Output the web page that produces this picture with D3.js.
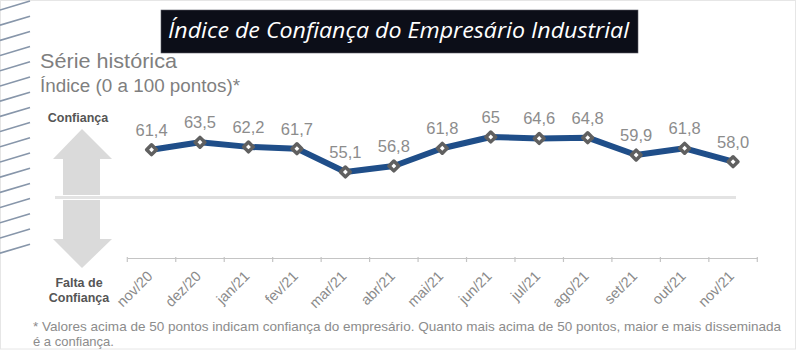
<!DOCTYPE html>
<html>
<head>
<meta charset="utf-8">
<script src="https://cdn.jsdelivr.net/npm/d3@7"></script>
<style>
  body { margin: 0; background: #fff; }
  svg { display: block; }
</style>
</head>
<body>
<div id="chart"></div>
<script>
const months = ["nov/20", "dez/20", "jan/21", "fev/21", "mar/21", "abr/21", "mai/21",
  "jun/21", "jul/21", "ago/21", "set/21", "out/21", "nov/21"];
const values = [61.4, 63.5, 62.2, 61.7, 55.1, 56.8, 61.8, 65, 64.6, 64.8, 59.9, 61.8, 58.0];
const valueLabels = ["61,4", "63,5", "62,2", "61,7", "55,1", "56,8", "61,8", "65", "64,6",
  "64,8", "59,9", "61,8", "58,0"];

const width = 800, height = 351;
const font = "'Liberation Sans', Arial, sans-serif";

var svg = d3.select("#chart").append("svg")
  .attr("width", width)
  .attr("height", height);

// frame
svg.append("rect")
  .attr("x", 0.5).attr("y", 0.5)
  .attr("width", 795).attr("height", 348.5)
  .attr("fill", "none")
  .attr("stroke", "#e6e6e6");

// decorative stripes on the left edge
svg.append("g")
  .selectAll("line")
  .data(d3.range(0, 17))
  .join("line")
  .attr("x1", 0).attr("y1", (i) => i * 15.2 + 10)
  .attr("x2", 30).attr("y2", (i) => i * 15.2 + 1)
  .attr("stroke", "#8796aa")
  .attr("stroke-width", 1.6);

// title box
svg.append("rect")
  .attr("x", 161).attr("y", 10)
  .attr("width", 477).attr("height", 43)
  .attr("fill", "#0c0e18")
  .attr("stroke", "#5a5c66")
  .attr("stroke-width", 0.6);
svg.append("text")
  .attr("x", 168).attr("y", 38)
  .attr("fill", "#ffffff")
  .attr("font-family", "'Open Sans', sans-serif")
  .attr("font-style", "italic")
  .attr("font-size", 21)
  .attr("textLength", 461)
  .attr("lengthAdjust", "spacingAndGlyphs")
  .text("Índice de Confiança do Empresário Industrial");

svg.append("text")
  .attr("x", 40).attr("y", 68)
  .attr("fill", "#7f7f7f")
  .attr("font-family", font)
  .attr("font-size", 21)
  .attr("textLength", 137)
  .attr("lengthAdjust", "spacingAndGlyphs")
  .text("Série histórica");
svg.append("text")
  .attr("x", 40).attr("y", 92)
  .attr("fill", "#7f7f7f")
  .attr("font-family", font)
  .attr("font-size", 18)
  .attr("textLength", 200)
  .attr("lengthAdjust", "spacingAndGlyphs")
  .text("Índice (0 a 100 pontos)*");

// side arrows
var arrows = svg.append("g").attr("fill", "#dadada");
arrows.append("path")
  .attr("d", "M82,129 L112,159 L100,159 L100,195 L63,195 L63,159 L53,159 Z");
arrows.append("path")
  .attr("d", "M63,200 L100,200 L100,239 L112,239 L82,268 L53,239 L63,239 Z");

svg.append("line")
  .attr("x1", 55).attr("x2", 736)
  .attr("y1", 197.5).attr("y2", 197.5)
  .attr("stroke", "#e3e3e3")
  .attr("stroke-width", 3);

var sideText = svg.append("g")
  .attr("fill", "#555")
  .attr("font-family", font)
  .attr("font-weight", "bold")
  .attr("font-size", 12.5)
  .attr("text-anchor", "middle");
sideText.append("text").attr("x", 78).attr("y", 122).text("Confiança");
sideText.append("text").attr("x", 79).attr("y", 287).text("Falta de");
sideText.append("text").attr("x", 79).attr("y", 302).text("Confiança");

// scales
var x = d3.scaleBand().domain(months).range([127.3, 757.3]);
var y = d3.scaleLinear().domain([45, 70]).range([207.7, 119.3]);

// x axis
var xAxis = svg.append("g")
  .attr("transform", "translate(0,258)")
  .call(d3.axisBottom(x).tickSize(0).tickFormat(""));
xAxis.select(".domain").attr("stroke", "#c4c4c4").attr("stroke-width", 1.2);
xAxis.selectAll(".tick").remove();
xAxis.selectAll(".bound")
  .data(d3.range(months.length + 1))
  .join("line")
  .attr("x1", (i) => x.range()[0] + i * x.step())
  .attr("x2", (i) => x.range()[0] + i * x.step())
  .attr("y1", -1).attr("y2", 4)
  .attr("stroke", "#c4c4c4")
  .attr("stroke-width", 1.2);

svg.append("g")
  .selectAll("text")
  .data(months)
  .join("text")
  .attr("transform", (d) => "translate(" + (x(d) + x.bandwidth() / 2 + 2) + ",277) rotate(-45)")
  .attr("text-anchor", "end")
  .attr("fill", "#8a8a8a")
  .attr("font-family", font)
  .attr("font-size", 14.5)
  .text((d) => d);

// series line
var line = d3.line()
  .x((d, i) => x(months[i]) + x.bandwidth() / 2)
  .y((d) => y(d));
svg.append("path")
  .datum(values)
  .attr("d", line)
  .attr("fill", "none")
  .attr("stroke", "#1f4e89")
  .attr("stroke-width", 6)
  .attr("stroke-linejoin", "round");

svg.append("g")
  .selectAll("path")
  .data(values)
  .join("path")
  .attr("d", d3.symbol(d3.symbolSquare, 48))
  .attr("transform", (d, i) => "translate(" + (x(months[i]) + x.bandwidth() / 2) + "," + y(d) + ") rotate(45)")
  .attr("fill", "#ffffff")
  .attr("stroke", "#606060")
  .attr("stroke-width", 3.5)
  .attr("stroke-linejoin", "round");

svg.append("g")
  .selectAll("text")
  .data(values)
  .join("text")
  .attr("x", (d, i) => x(months[i]) + x.bandwidth() / 2)
  .attr("y", (d) => y(d) - 14)
  .attr("text-anchor", "middle")
  .attr("fill", "#8c8c8c")
  .attr("font-family", font)
  .attr("font-size", 16.5)
  .text((d, i) => valueLabels[i]);

// footnote
var note = svg.append("g")
  .attr("fill", "#8c8c8c")
  .attr("font-family", font)
  .attr("font-size", 13);
note.append("text")
  .attr("x", 33).attr("y", 331)
  .attr("textLength", 748)
  .attr("lengthAdjust", "spacingAndGlyphs")
  .text("* Valores acima de 50 pontos indicam confiança do empresário. Quanto mais acima de 50 pontos, maior e mais disseminada");
note.append("text")
  .attr("x", 33).attr("y", 346)
  .text("é a confiança.");
</script>
</body>
</html>
